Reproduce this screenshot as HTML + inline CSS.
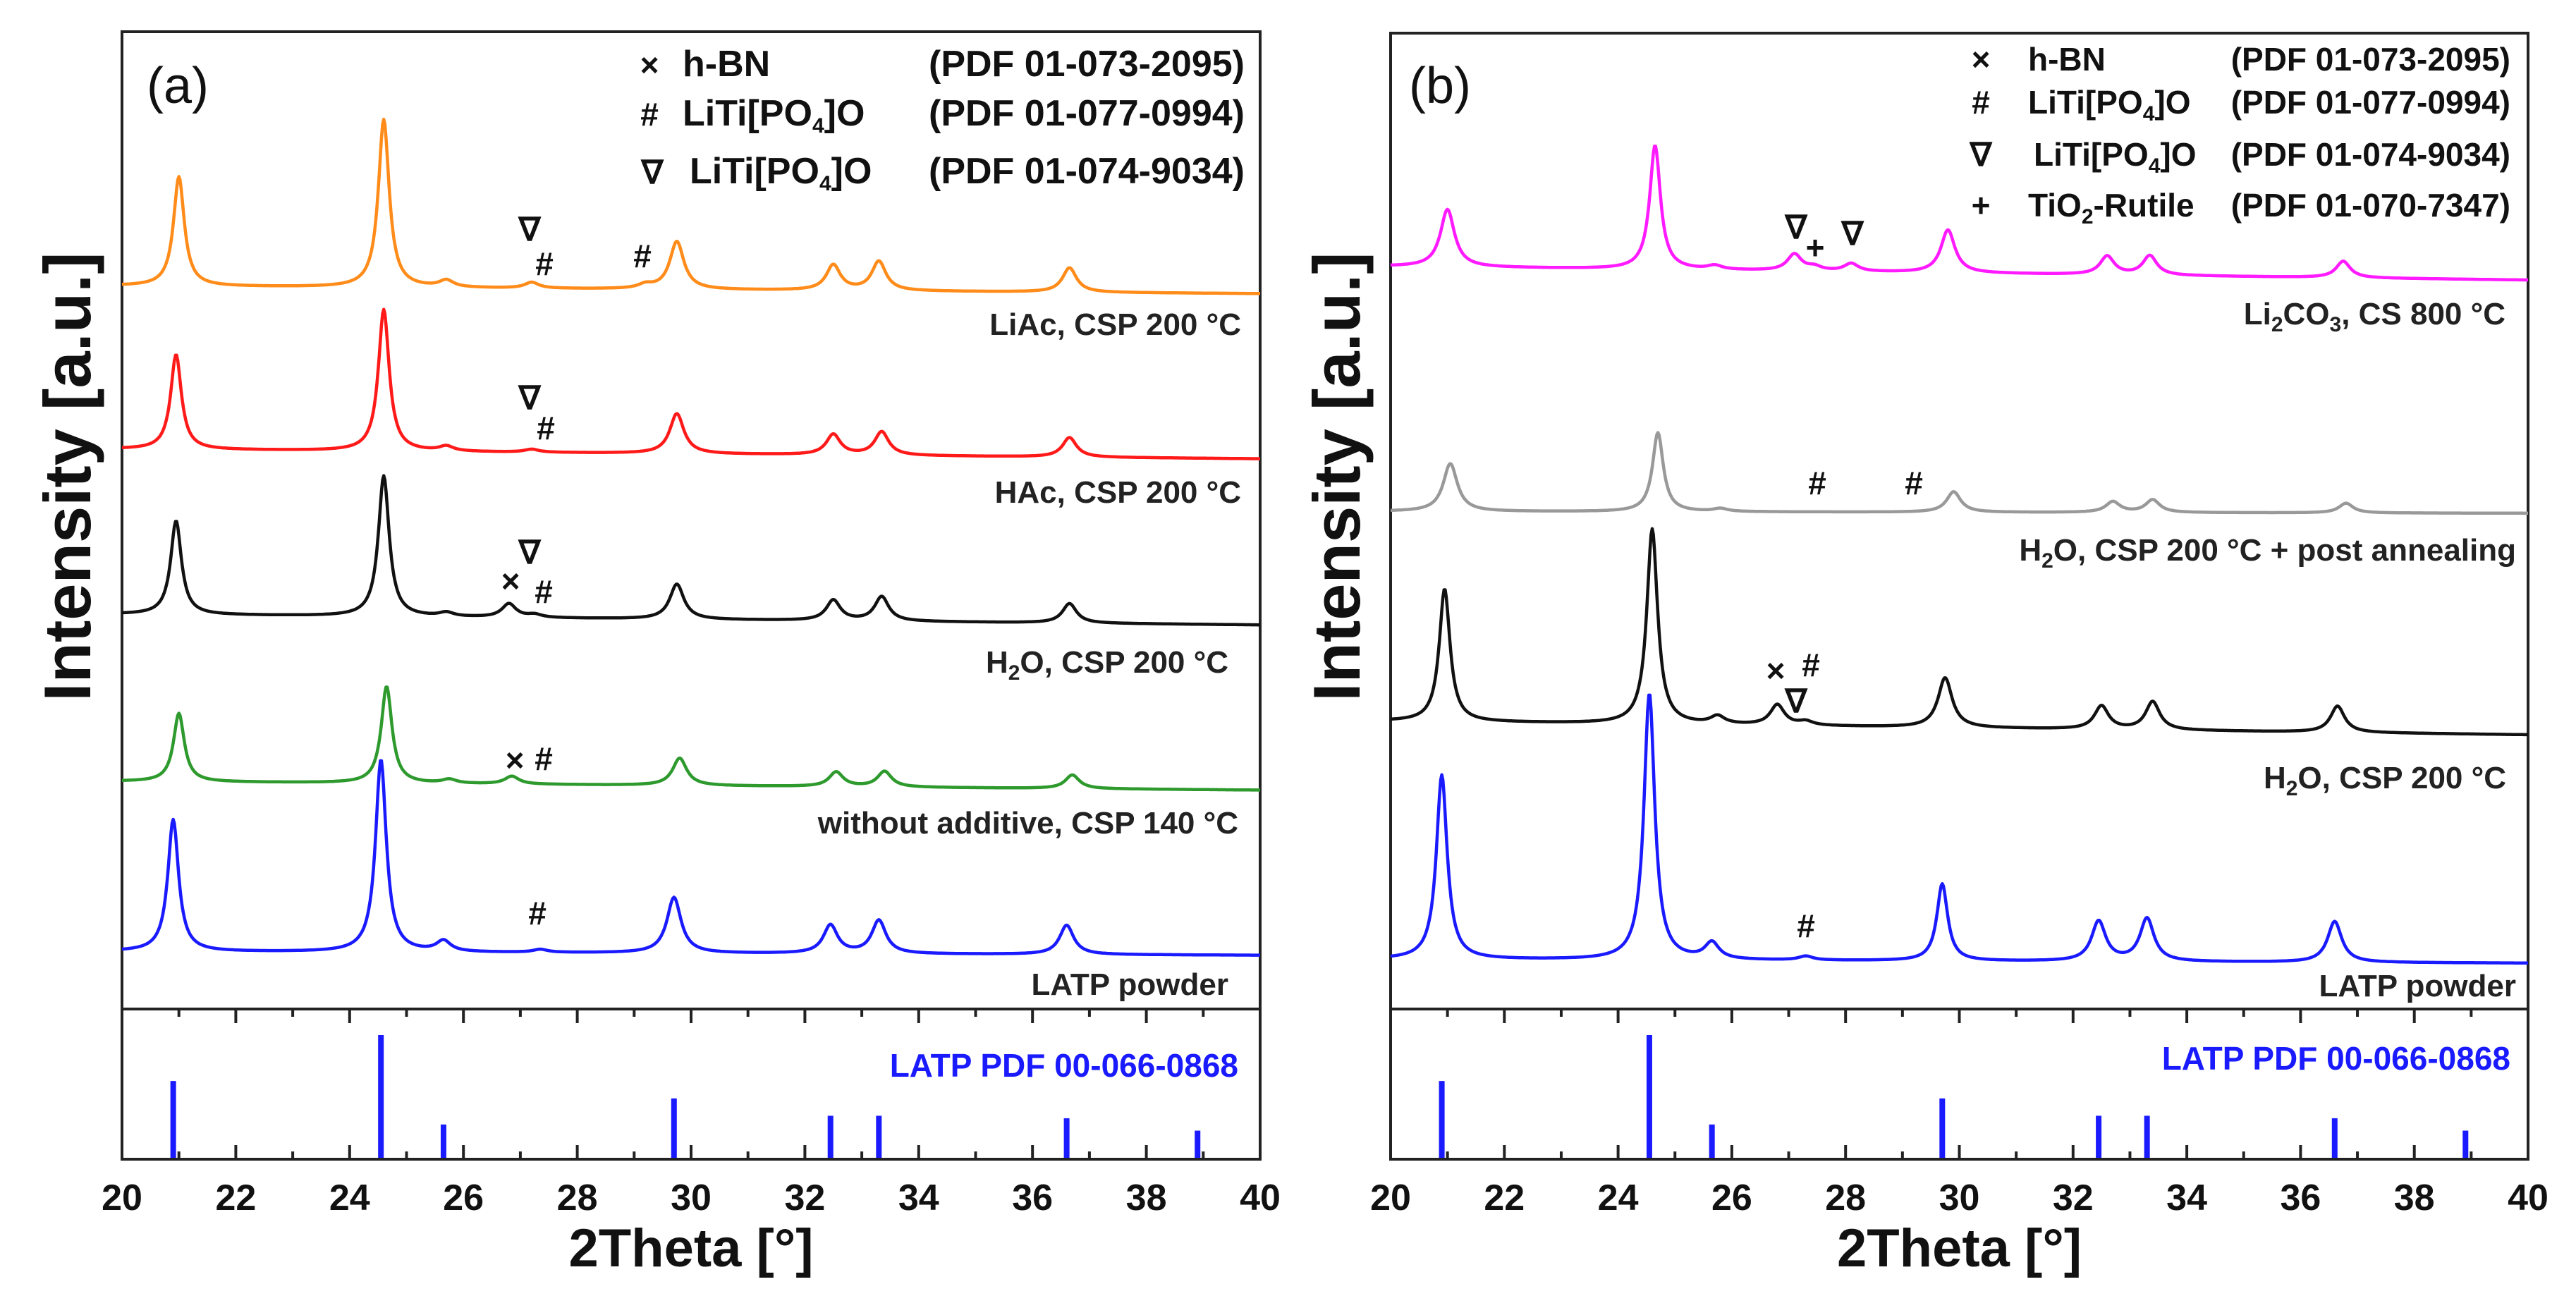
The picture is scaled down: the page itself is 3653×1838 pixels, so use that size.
<!DOCTYPE html>
<html><head><meta charset="utf-8"><style>
html,body{margin:0;padding:0;background:#fff}
svg{display:block;font-family:"Liberation Sans",Arial,sans-serif}
</style></head><body>
<svg id="fig" width="3653" height="1838" viewBox="0 0 3653 1838" xmlns="http://www.w3.org/2000/svg">
<rect width="3653" height="1838" fill="#fff"/>
<g id="pa"></g>
<g id="pb"></g>
</svg>
<script>
// ---- data ----
const xTicks = [20,22,24,26,28,30,32,34,36,38,40];
const stickPos = [20.9,24.55,25.65,29.7,32.45,33.3,36.6,38.9];
const stickInt = [63,100,28,49,35,35,33,23];
const aOrangePos=[21.0,24.6,25.7,27.2,29.2,29.75,32.5,33.3,36.65];
const aOrangeH=[112,172,7,6,4,49,26,30,25];
const aRedPos=[20.95,24.6,25.7,27.2,29.75,32.5,33.35,36.65];
const aRedH=[97,145,5,3,41,21,24,20];
const aBlackPos=[20.95,24.6,25.7,26.8,27.25,29.75,32.5,33.35,36.65];
const aBlackH=[96,144,4,14,3,36,21,25,20];
const aGreenPos=[21.0,24.65,25.75,26.85,29.8,32.55,33.4,36.7];
const aGreenH=[70,99,4,8,28,15,16,14];
const aBluePos=[20.9,24.55,25.65,27.35,29.7,32.45,33.3,36.6];
const aBlueH=[135,197,11,3,57,29,34,30];
const bMagPos=[21.0,24.65,25.7,27.1,27.45,28.1,29.8,32.6,33.35,36.75];
const bMagH=[59,127,4,17,4,8,44,19,20,17];
const bGrayPos=[21.05,24.7,25.8,29.9,32.7,33.4,36.8];
const bGrayH=[49,81,3,21,11,13,10];
const bBlackPos=[20.95,24.6,25.75,26.8,27.3,29.75,32.5,33.4,36.65];
const bBlackH=[136,200,8,21,4,51,24,29,27];
const bBluePos=[20.9,24.55,25.65,27.3,29.7,32.45,33.3,36.6];
const bBlueH=[189,273,17,4,79,41,44,42];

const NS="http://www.w3.org/2000/svg";
function mk(parent,tag,attrs,txt){const e=document.createElementNS(NS,tag);for(const k in attrs)e.setAttribute(k,attrs[k]);if(txt!==undefined)e.textContent=txt;parent.appendChild(e);return e;}

function widthFor(h){return h>60?0.13:0.17;}
function curve(x,b0,b1,pos,h){let y=b0+(b1-b0)*(x-20)/20;for(let i=0;i<pos.length;i++){const w=widthFor(h[i]);const d=(x-pos[i])/w;y+=h[i]/(1+d*d*1.3);}return y;}

function panel(g,L,R,T,D,B,series,labels,legend,markers,tag){
  const xs=v=>L+(v-20)/20*(R-L);
  const ys=v=>D-v/1000*(D-T);
  const ysS=v=>B-v/121*(B-D);
  let e=mk(g,'rect',{x:L,y:T,width:R-L,height:B-T,fill:'none',stroke:'#222','stroke-width':4});
  
  e=mk(g,'line',{x1:L,x2:R,y1:D,y2:D,stroke:'#222','stroke-width':4});
  
  for(let v=20;v<=40;v+=1){const x=xs(v);const len=(v%2===0)?20:11;
    e=mk(g,'line',{x1:x,x2:x,y1:B,y2:B-len,stroke:'#222','stroke-width':4});
    
    e=mk(g,'line',{x1:x,x2:x,y1:D,y2:D+len,stroke:'#222','stroke-width':4});
    }
  xTicks.forEach(v=>{e=mk(g,'text',{x:xs(v),y:1716,'text-anchor':'middle','font-size':52,'font-weight':'bold',fill:'#111'},String(v));
    });
  e=mk(g,'text',{x:(L+R)/2,y:1796,'text-anchor':'middle','font-size':76,'font-weight':'bold',fill:'#111'},'2Theta [°]');
  
  const yx=tag==='a'?128:1928, yc=676;
  e=mk(g,'text',{x:yx,y:yc,'text-anchor':'middle','font-size':94,'font-weight':'bold',fill:'#111',transform:`rotate(-90 ${yx} ${yc})`},'Intensity [a.u.]');
  
  series.forEach(s=>{let d='';for(let x=20;x<=40.0001;x+=0.02){const v=curve(x,s.b0,s.b1,s.pos,s.h);d+=(d?'L':'M')+xs(x).toFixed(1)+','+ys(v).toFixed(1);}
    e=mk(g,'path',{d:d,fill:'none',stroke:s.c,'stroke-width':4.5,'stroke-linejoin':'round'});
    });
  stickPos.forEach((p,i)=>{e=mk(g,'line',{x1:xs(p),x2:xs(p),y1:B-2,y2:ysS(stickInt[i]),stroke:'#1a1aff','stroke-width':8});
    });
  labels.forEach(l=>{e=mk(g,'text',{x:l[1],y:l[2],'text-anchor':'end','font-size':l[4]||44,'font-weight':'bold',fill:l[3]||'#222'});
    e.innerHTML=l[0];});
  legend.forEach(l=>{e=mk(g,'text',{x:l[0],y:l[3],'text-anchor':'middle','font-size':46,'font-weight':'bold',fill:'#111'});e.innerHTML=l[4];
    
    e=mk(g,'text',{x:l[1],y:l[3],'font-size':l[6],'font-weight':'bold',fill:'#111'});e.innerHTML=l[5];
    
    e=mk(g,'text',{x:l[2],y:l[3],'text-anchor':'end','font-size':l[6],'font-weight':'bold',fill:'#111'},l[7]);
    });
  markers.forEach(m=>{e=mk(g,'text',{x:m[1],y:m[2]+15,'text-anchor':'middle','font-size':46,'font-weight':'bold',fill:'#111'},m[0]);
    });
  e=mk(g,'text',{x:tag==='a'?208:1998,y:146,'font-size':72,fill:'#111'},'('+tag+')');
  
}
const sub=(a,b,c)=>a+'<tspan font-size="30" dy="10">'+b+'</tspan><tspan dy="-10">'+c+'</tspan>';
panel(document.getElementById('pa'),173,1787,45,1431,1644,[
 {name:'liac-curve',c:'#ff8c1a',b0:740,b1:732,pos:aOrangePos,h:aOrangeH},
 {name:'hac-curve',c:'#ff1a1a',b0:573,b1:563,pos:aRedPos,h:aRedH},
 {name:'h2o-curve',c:'#111',b0:404,b1:393,pos:aBlackPos,h:aBlackH},
 {name:'no-additive-curve',c:'#2e9a2e',b0:233,b1:224,pos:aGreenPos,h:aGreenH},
 {name:'latp-powder-curve',c:'#1a1aff',b0:59,b1:55,pos:aBluePos,h:aBlueH}],
 [['LiAc, CSP 200 °C',1760,475],['HAc, CSP 200 °C',1760,713],[sub('H','2','O, CSP 200 °C'),1742,954],
  ['without additive, CSP 140 °C',1756,1182],['LATP powder',1742,1411],['LATP PDF 00-066-0868',1756,1527,'#1a1aff',46]],
 [[921,968,1765,108,'×','h-BN',52,'(PDF 01-073-2095)'],[921,968,1765,178,'#',sub('LiTi[PO','4',']O'),52,'(PDF 01-077-0994)'],[925,978,1765,260,'∇',sub('LiTi[PO','4',']O'),52,'(PDF 01-074-9034)']],
 [['∇',751,326],['#',772,375],['#',911,364],['∇',751,565],['#',774,608],['∇',751,784],['×',724,825],['#',771,840],['×',730,1079],['#',771,1077],['#',762,1296]],'a');
panel(document.getElementById('pb'),1972,3585,47,1431,1644,[
 {name:'li2co3-curve',c:'#ff1aff',b0:761,b1:747,pos:bMagPos,h:bMagH},
 {name:'post-annealing-curve',c:'#999',b0:510,b1:508,pos:bGrayPos,h:bGrayH},
 {name:'h2o-curve',c:'#111',b0:295,b1:281,pos:bBlackPos,h:bBlackH},
 {name:'latp-powder-curve',c:'#1a1aff',b0:51,b1:47,pos:bBluePos,h:bBlueH}],
 [['Li<tspan font-size="30" dy="10">2</tspan><tspan dy="-10">CO</tspan><tspan font-size="30" dy="10">3</tspan><tspan dy="-10">, CS 800 °C</tspan>',3553,460],
  [sub('H','2','O, CSP 200 °C + post annealing'),3568,795],
  [sub('H','2','O, CSP 200 °C'),3554,1118],['LATP powder',3568,1413],['LATP PDF 00-066-0868',3560,1517,'#1a1aff',46]],
 [[2809,2876,3560,100,'×','h-BN',46,'(PDF 01-073-2095)'],[2809,2876,3560,161,'#',sub('LiTi[PO','4',']O'),46,'(PDF 01-077-0994)'],
  [2809,2884,3560,235,'∇',sub('LiTi[PO','4',']O'),46,'(PDF 01-074-9034)'],[2809,2876,3560,307,'+',sub('TiO','2','-Rutile'),46,'(PDF 01-070-7347)']],
 [['∇',2547,323],['+',2574,352],['∇',2627,332],['#',2577,686],['#',2714,686],['×',2518,952],['#',2568,944],['∇',2547,995],['#',2561,1314]],'b');
</script>
</body></html>
